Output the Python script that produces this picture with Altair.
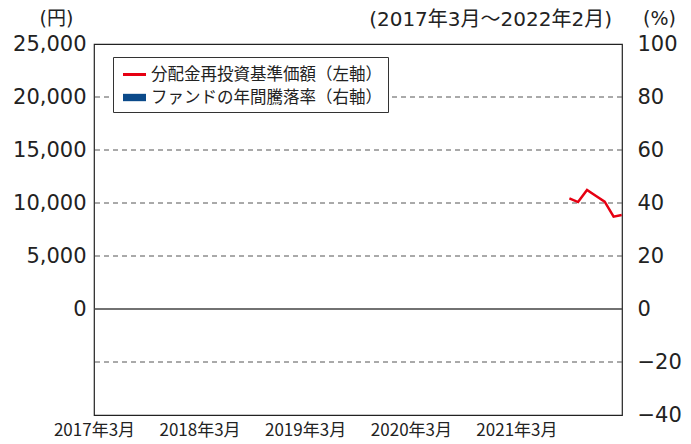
import altair as alt
import pandas as pd

# ---- data ----
dates = ["2021-08-31", "2021-09-30", "2021-10-31", "2021-11-30",
         "2021-12-31", "2022-01-31", "2022-02-28"]
nav = [10440, 10090, 11230, 10680, 10120, 8710, 8870]

series_names = ["分配金再投資基準価額（左軸）", "ファンドの年間騰落率（右軸）"]
series_colors = ["#e60012", "#0b4a8a"]

yen_ticks = [0, 5000, 10000, 15000, 20000, 25000]
pct_ticks = [-40, -20, 0, 20, 40, 60, 80, 100]
grid_pct = [-20, 0, 20, 40, 60, 80]
x_tick_years = [2017, 2018, 2019, 2020, 2021]
period_text = ["(2017年3月～2022年2月)"]

FONT = "Noto Sans CJK JP"
WIDE = "DejaVu Sans, Noto Sans CJK JP"
TXT = "#222"

df = pd.DataFrame({"date": dates, "nav": nav, "series": series_names[0]})
grid_df = pd.DataFrame({"pct": grid_pct})
period_df = pd.DataFrame({"t": period_text})

x_enc = alt.X(
    "date:T",
    scale=alt.Scale(type="utc", domain=[alt.DateTime(year=2017, month=3, date=1, utc=True),
                                        alt.DateTime(year=2022, month=3, date=1, utc=True)]),
    axis=alt.Axis(
        values=[alt.DateTime(year=y, month=3, date=1, utc=True) for y in x_tick_years],
        format="%Y年%-m月", title=None, domain=False, ticks=False, grid=False,
        labelFlush=False, labelOverlap=False,
        labelFont=FONT, labelFontSize=17, labelColor=TXT, labelPadding=7,
    ),
)

rules = alt.Chart(grid_df).mark_rule().encode(
    y=alt.Y("pct:Q", scale=alt.Scale(domain=[-40, 100], nice=False),
            axis=alt.Axis(orient="right", values=pct_ticks, title="(%)",
                          titleAngle=0, titleX=37, titleY=-26, titleAlign="center",
                          titleBaseline="middle", titleFont=WIDE, titleFontSize=19,
                          titleFontWeight="normal", titleColor=TXT,
                          domain=False, ticks=False, grid=False, labelOverlap=False,
                          labelFont=WIDE, labelFontSize=21, labelColor=TXT,
                          labelPadding=15)),
    strokeDash=alt.condition("datum.pct == 0", alt.value([1, 0]), alt.value([5, 4])),
    color=alt.condition("datum.pct == 0", alt.value("#444"), alt.value("#555")),
    strokeWidth=alt.condition("datum.pct == 0", alt.value(1.5), alt.value(1)),
)

yen_scale = alt.Scale(domain=[-10000, 25000], nice=False)

line = alt.Chart(df).mark_line(color=series_colors[0], strokeWidth=2.5).encode(
    x=x_enc,
    y=alt.Y("nav:Q", scale=yen_scale,
            axis=alt.Axis(orient="left", values=yen_ticks, format=",d", title="(円)",
                          titleAngle=0, titleX=-38, titleY=-26, titleAlign="center",
                          titleBaseline="middle", titleFont=WIDE, titleFontSize=19,
                          titleFontWeight="normal", titleColor=TXT,
                          domain=False, ticks=False, grid=False, labelOverlap=False,
                          labelFont=WIDE, labelFontSize=21, labelColor=TXT,
                          labelPadding=8)),
)

period = alt.Chart(period_df).mark_text(
    font=WIDE, fontSize=20, color=TXT, align="right", baseline="middle"
).encode(
    text="t:N", x=alt.value(518), y=alt.value(-24)
)

legend_layer = alt.Chart(df).mark_point(filled=True, opacity=1).encode(
    x=alt.X("date:T"),
    y=alt.Y("nav:Q", scale=yen_scale, axis=None),
    color=alt.Color("series:N",
                    scale=alt.Scale(domain=series_names, range=series_colors),
                    legend=alt.Legend(
                        title=None, orient="none", legendX=19, legendY=13,
                        fillColor="white", strokeColor="#333", padding=6,
                        labelFont=FONT, labelFontSize=16.5, labelColor=TXT,
                        labelLimit=500, symbolSize=529, symbolStrokeWidth=0,
                        symbolOpacity=1, rowPadding=3, symbolOffset=4, labelOffset=5)),
    shape=alt.Shape("series:N",
                    scale=alt.Scale(domain=series_names,
                                    range=["M-1,-0.13H1V0.13H-1Z", "M-1,-0.32H1V0.32H-1Z"]),
                    legend=None),
).transform_filter("false")

chart = alt.layer(rules, line, legend_layer, period).resolve_scale(
    y="independent"
).properties(
    width=528, height=371,
    autosize=alt.AutoSizeParams(type="none"),
    padding={"left": 94, "top": 44, "right": 69, "bottom": 29},
    background="white",
).configure_view(stroke="#222", strokeWidth=1.2)

chart.save("out.html", embed_options={"renderer": "svg", "actions": False})
